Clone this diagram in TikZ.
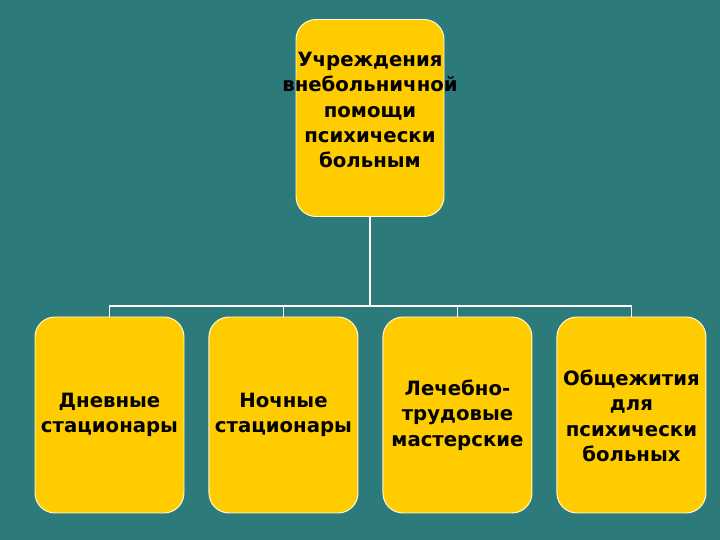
\documentclass[tikz,border=0pt]{standalone}
\usepackage{fontspec}
\setmainfont{DejaVu Sans}
\usetikzlibrary{positioning, calc}

\definecolor{slide}{RGB}{44,122,122}
\definecolor{boxfill}{RGB}{255,204,0}
\definecolor{boxline}{RGB}{255,250,215}

\tikzset{
	unit/.style={draw=boxline, line width=0.7pt, fill=boxfill, rounded corners=0.5cm,
		minimum width=3.725cm, minimum height=4.9cm, inner sep=0pt},
	unittext/.style={align=center, font=\bfseries\fontsize{14}{18}\selectfont, text=black, inner sep=0pt},
	wire/.style={draw=white, line width=1pt}
}

\begin{document}
\begin{tikzpicture}
	\fill[slide] (0,0) rectangle (18,13.5);
	\useasboundingbox (0,0) rectangle (18,13.5);
	% head of the tree
	\node at (9.25,10.55) [unit, minimum width=3.7cm, minimum height=4.925cm] (top) {};
	\node [unittext] at ($(top)+(0,0.2)$) (toptext) {Учреждения\\внебольничной\\помощи\\психически\\больным};
	% four kinds of units
	\node at (2.7375,3.125) [unit] (day) {};
	\node [right=0.6cm of day, unit] (night) {};
	\node [right=0.6cm of night, unit] (work) {};
	\node [right=0.6cm of work, unit] (hostel) {};
	\node [unittext] at (day) (daytext) {Дневные\\стационары};
	\node [unittext] at (night) (nighttext) {Ночные\\стационары};
	\node [unittext] at (work) (worktext) {Лечебно-\\трудовые\\мастерские};
	\node [unittext] at ($(hostel)+(0,-0.02)$) (hosteltext) {Общежития\\для\\психически\\больных};
	% connectors
	\coordinate (bus) at (9.25,5.85);
	\draw[wire] (top.south) -- (bus);
	\draw[wire] (day.north) -- (day.north |- bus) -- (hostel.north |- bus) -- (hostel.north);
	\foreach \n in {night, work}
		\draw[wire] (\n.north) -- (\n.north |- bus);
\end{tikzpicture}
\end{document}
